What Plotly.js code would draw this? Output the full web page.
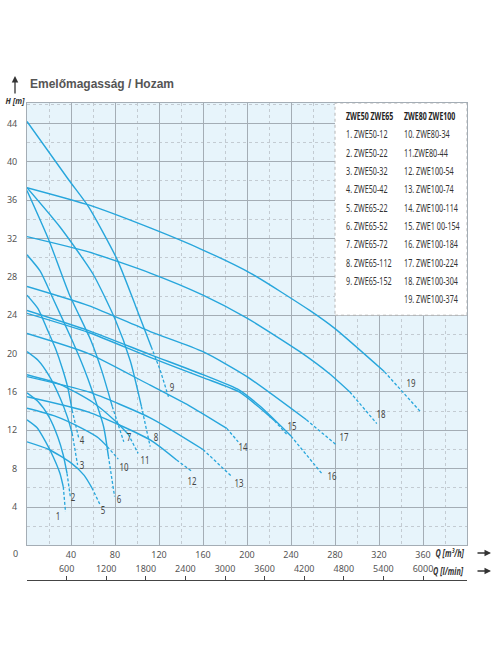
<!DOCTYPE html>
<html><head><meta charset="utf-8">
<script src="https://cdn.plot.ly/plotly-3.0.1.min.js"></script>
<style>html,body{margin:0;padding:0;background:#fff;}#chart{width:496px;height:664px;}</style>
</head><body><div id="chart"></div>
<script>
// ---- data (Q in m3/h, H in m) ----
const Q_01=[0,9,17,24,30,33,35];            const H_01=[13.1,12.3,10.8,9.2,7.5,6.1,3.5];
const Q_02=[0,10,20,28,33,36.4,39.5];       const H_02=[15.9,15.0,13.4,11.3,9.4,7.5,5.0];
const Q_03=[0,10,20,30,37,41,46];           const H_03=[20.2,19.3,17.7,15.4,13.3,11.7,8.4];
const Q_04=[0,10,18.5,26,32,37,41,47];      const H_04=[26.1,24.7,22.5,20.5,18.5,16.5,14.1,11.2];
const Q_05=[0,20,40,52,59,66.6];            const H_05=[10.8,10.0,8.6,7.3,6.0,4.2];
const Q_06=[0,12,23,41,52,59,69.6,74,79.6]; const H_06=[30.3,28.6,25.9,21.4,18.4,16.2,12.4,9.3,5.1];
const Q_07=[0,20,38,58,68,77.5,88];         const H_07=[37.0,31.8,26.3,21.4,18.2,14.5,10.8];
const Q_08=[0,30,60,80,94,104,112];         const H_08=[37.3,33.2,28.3,23.6,19.2,14.5,10.3];
const Q_09=[0,38,56,82,98.6,113,121,128.6]; const H_09=[44.2,38.1,35.3,29.8,25.0,20.7,18.3,15.5];
const Q_10=[0,25,50,65,73,83];              const H_10=[14.3,13.5,12.2,11.2,10.3,9.0];
const Q_11=[0,30,60,80,92,101];             const H_11=[17.8,16.8,14.9,13.0,11.6,9.6];
const Q_12=[0,56,112,136,150];              const H_12=[15.5,13.9,11.0,8.9,7.7];
const Q_13=[0,56,112,160,186];              const H_13=[17.6,16.0,13.3,10.0,7.2];
const Q_14=[0,56,112,150,181.6,192];        const H_14=[22.1,20.0,16.7,14.4,12.2,10.8];
const Q_15=[0,56,112,160,193,212,225,236];  const H_15=[24.2,22.2,19.6,17.5,16.0,14.3,13.0,11.6];
const Q_16=[0,56,112,160,193,212,240,268];  const H_16=[24.5,22.4,19.9,17.8,16.2,14.5,11.4,7.5];
const Q_17=[0,56,112,160,200,254,281];      const H_17=[27.0,25.0,22.3,20.2,17.6,13.1,10.5];
const Q_18=[0,56,112,160,200,248,275,293.5,318]; const H_18=[32.2,30.6,28.4,26.1,23.7,20.2,17.9,16.0,12.7];
const Q_19=[0,56,112,160,203,257,280,325,358];   const H_19=[37.3,35.5,33.1,30.8,28.4,24.5,22.6,18.1,13.9];
// number of points of each curve drawn solid (rest is the dashed continuation)
const SOLID_POINTS=[6,6,6,7,5,8,6,6,6,5,5,4,4,5,7,7,6,8,8];
const CURVE_LABELS=['1','2','3','4','5','6','7','8','9','10','11','12','13','14','15','16','17','18','19'];
const LEGEND_HEAD=['ZWE50 ZWE65','ZWE80 ZWE100'];
const LEGEND_LEFT=['1. ZWE50-12','2. ZWE50-22','3. ZWE50-32','4. ZWE50-42','5. ZWE65-22','6. ZWE65-52','7. ZWE65-72','8. ZWE65-112','9. ZWE65-152'];
const LEGEND_RIGHT=['10. ZWE80-34','11.ZWE80-44','12. ZWE100-54','13. ZWE100-74','14. ZWE100-114','15. ZWE1 00-154','16. ZWE100-184','17. ZWE100-224','18. ZWE100-304','19. ZWE100-374'];
const Q_TICKS=[40,80,120,160,200,240,280,320,360];
const H_TICKS=[4,8,12,16,20,24,28,32,36,40,44];
const LMIN_TICKS=[600,1200,1800,2400,3000,3600,4200,4800,5400,6000];

// ---- styling / placement ----
const CURVES=[[Q_01,H_01],[Q_02,H_02],[Q_03,H_03],[Q_04,H_04],[Q_05,H_05],[Q_06,H_06],[Q_07,H_07],[Q_08,H_08],[Q_09,H_09],[Q_10,H_10],[Q_11,H_11],[Q_12,H_12],[Q_13,H_13],[Q_14,H_14],[Q_15,H_15],[Q_16,H_16],[Q_17,H_17],[Q_18,H_18],[Q_19,H_19]];
const LABEL_SHIFT=[[-8,-4],[3,0],[4,0],[3,-2],[3,-5],[4,-3],[5,5],[6,10],[4,10],[6,-8],[7,-7],[0,-9],[7,-7],[5,-5],[5,8],[10,-3],[8,8],[4,10],[-10,29]];
const BLUE='#27a6dc', GRID='#a4adb5', MINOR='#c3cbd2', TXT='#555555';
const SANS='Noto Sans, sans-serif';
const PL=27, PW=440, PB=580, PH=477;           // paper area in px
const fx=px=>(px-PL)/PW, fy=py=>(PB-py)/PH;

const traces=[];
CURVES.forEach(([q,h],i)=>{
  const n=SOLID_POINTS[i];
  traces.push({x:q.slice(0,n),y:h.slice(0,n),mode:'lines',line:{color:BLUE,width:1.4,shape:'spline',smoothing:0.6},hoverinfo:'skip'});
  traces.push({x:q.slice(n-1),y:h.slice(n-1),mode:'lines',line:{color:BLUE,width:1.3,dash:'3px,2px'},hoverinfo:'skip'});
});
// invisible carrier so the l/min axis is drawn
traces.push({x:LMIN_TICKS,y:LMIN_TICKS.map(()=>null),xaxis:'x2',yaxis:'y',mode:'markers',marker:{opacity:0},hoverinfo:'skip'});

const ann=[], SQUEEZE=[];   // SQUEEZE: horizontal condensing factor + origin per annotation
const A=(o,sx,org)=>{ann.push(Object.assign({xref:'paper',yref:'paper',xanchor:'center',yanchor:'middle',showarrow:false},o));SQUEEZE.push([sx||1,org||'50% 50%']);};
CURVES.forEach(([q,h],i)=>{
  A({x:q[q.length-1],y:h[h.length-1],xref:'x',yref:'y',text:CURVE_LABELS[i],
    xshift:LABEL_SHIFT[i][0],yshift:LABEL_SHIFT[i][1],font:{family:SANS,size:10.5,color:'#444'}},0.75);
});
// title and axis captions
A({x:fx(28),y:fy(84),xanchor:'left',text:'Emelőmagasság / Hozam',font:{family:'Liberation Sans, Arial, sans-serif',size:12.5,color:TXT,weight:'bold'}},0.96,'0% 50%');
A({x:fx(15),y:fy(76),text:'',showarrow:true,ax:0,ay:19,arrowhead:2,arrowsize:1,arrowwidth:1.3,arrowcolor:'#333'});
A({x:fx(15.5),y:fy(101),text:'<b><i>H [m]</i></b>',font:{family:SANS,size:9.5,color:'#333'}},0.8);
A({x:fx(15),y:fy(553),text:'0',font:{family:SANS,size:9,color:TXT}});
A({x:fx(466),y:fy(553),xanchor:'right',text:'<b><i>Q [m³/h]</i></b>',font:{family:SANS,size:10,color:'#333'}},0.72,'100% 50%');
A({x:fx(466),y:fy(571),xanchor:'right',text:'<b><i>Q [l/min]</i></b>',font:{family:SANS,size:10,color:'#333'}},0.72,'100% 50%');
A({x:fx(491),y:fy(553),text:'',showarrow:true,ax:-15,ay:0,arrowhead:2,arrowsize:1,arrowwidth:1.3,arrowcolor:'#333'});
A({x:fx(491),y:fy(571),text:'',showarrow:true,ax:-15,ay:0,arrowhead:2,arrowsize:1,arrowwidth:1.3,arrowcolor:'#333'});
// model list box
A({x:fx(344),y:fy(116),xanchor:'left',text:'<b>'+LEGEND_HEAD[0]+'</b>',font:{family:SANS,size:10,color:'#222'}},0.7,'0% 50%');
A({x:fx(401.5),y:fy(116),xanchor:'left',text:'<b>'+LEGEND_HEAD[1]+'</b>',font:{family:SANS,size:10,color:'#222'}},0.7,'0% 50%');
LEGEND_LEFT.forEach((t,k)=>A({x:fx(344),y:fy(134.3+k*18.33),xanchor:'left',text:t,font:{family:SANS,size:10,color:'#333'}},0.72,'0% 50%'));
LEGEND_RIGHT.forEach((t,k)=>A({x:fx(401.5),y:fy(134.3+k*18.33),xanchor:'left',text:t,font:{family:SANS,size:10,color:'#333'}},0.72,'0% 50%'));

const tickFont={family:SANS,size:9,color:TXT};
const layout={
  width:496,height:664,margin:{l:PL,r:496-PL-PW,t:PB-PH,b:664-PB,pad:0},
  paper_bgcolor:'#ffffff',plot_bgcolor:'#e7f4fb',showlegend:false,
  xaxis:{range:[0,400],tickmode:'array',tickvals:Q_TICKS,showgrid:true,gridcolor:GRID,gridwidth:1,
    minor:{tick0:0,dtick:20,showgrid:true,gridcolor:MINOR,griddash:'dot',gridwidth:1},
    showline:true,linecolor:GRID,mirror:true,zeroline:false,ticks:'',tickfont:tickFont,ticklabelstandoff:1,fixedrange:true},
  xaxis2:{overlaying:'x',anchor:'free',position:0,side:'top',range:[0,400*1000/60],tickmode:'array',tickvals:LMIN_TICKS,
    ticks:'outside',ticklen:4,tickcolor:'#444',tickwidth:1,showline:true,linecolor:'#444',linewidth:1,showgrid:false,zeroline:false,tickfont:tickFont,fixedrange:true},
  yaxis:{domain:[(PB-545.4)/PH,1],range:[0,46.13],tickmode:'array',tickvals:H_TICKS,showgrid:true,gridcolor:GRID,gridwidth:1,
    minor:{tick0:0,dtick:2,showgrid:true,gridcolor:MINOR,griddash:'dot',gridwidth:1},
    showline:true,linecolor:GRID,mirror:true,zeroline:false,ticks:'',tickfont:tickFont,ticklabelstandoff:7,fixedrange:true},
  shapes:[{type:'rect',xref:'x',yref:'y',x0:280,x1:400,y0:24,y1:46.13,fillcolor:'#ffffff',line:{color:'#b5b5b5',width:1,dash:'dot'},layer:'above'}],
  annotations:ann
};
Plotly.newPlot('chart',traces,layout,{staticPlot:true,displayModeBar:false}).then(gd=>{
  gd.querySelectorAll('g.annotation').forEach(g=>{
    const i=+g.getAttribute('data-index'); const s=SQUEEZE[i];
    if(!s||s[0]===1) return;
    const t=g.querySelector('text.annotation-text'); if(!t) return;
    t.style.transformBox='fill-box'; t.style.transformOrigin=s[1]; t.style.transform='scaleX('+s[0]+')';
  });
});
</script></body></html>
